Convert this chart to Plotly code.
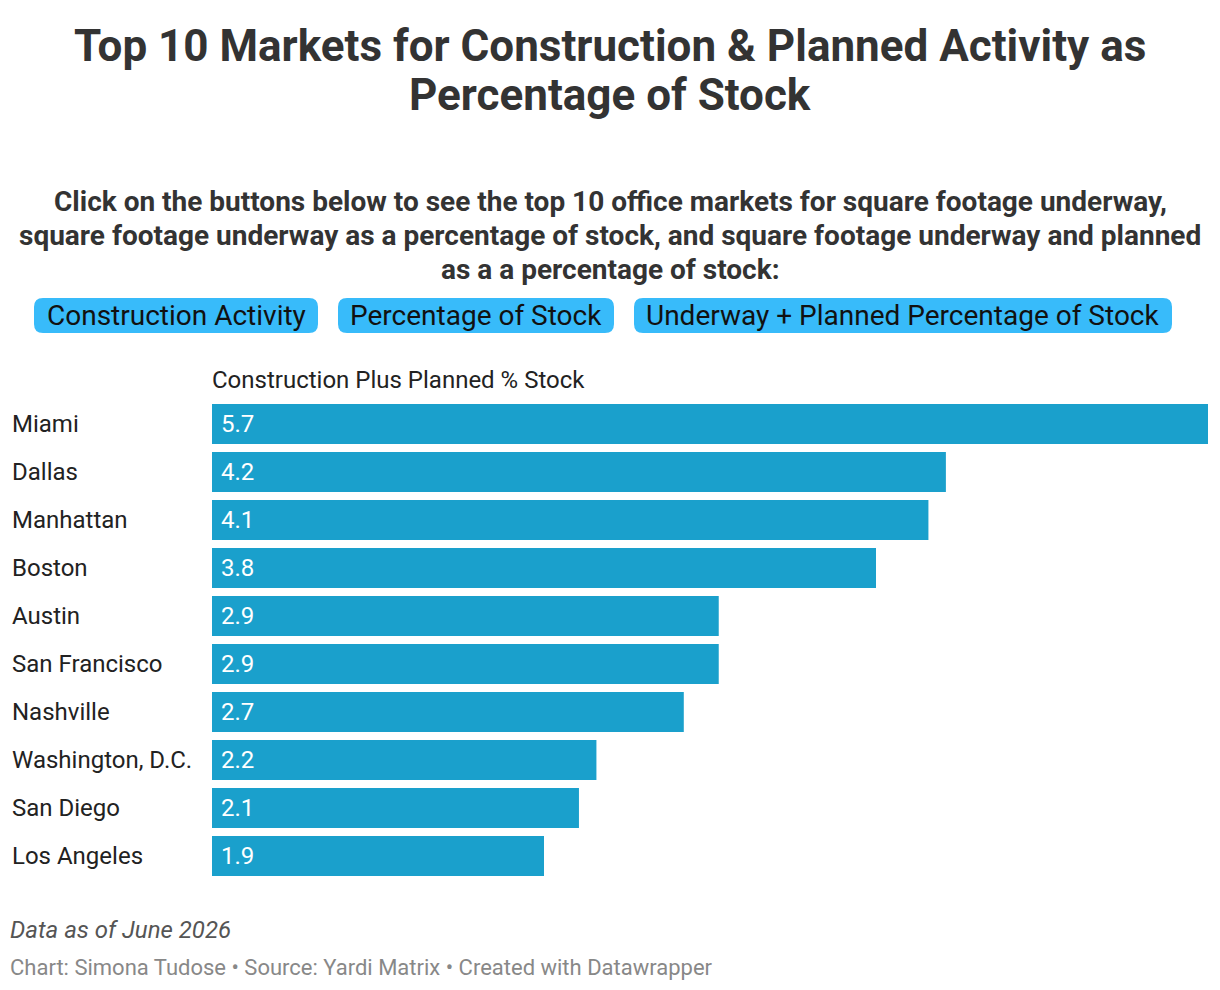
import plotly.graph_objects as go

markets = ["Miami", "Dallas", "Manhattan", "Boston", "Austin", "San Francisco",
           "Nashville", "Washington, D.C.", "San Diego", "Los Angeles"]
pct_stock = [5.7, 4.2, 4.1, 3.8, 2.9, 2.9, 2.7, 2.2, 2.1, 1.9]
buttons = ["Construction Activity", "Percentage of Stock", "Underway + Planned Percentage of Stock"]

# page has an 8px body margin, so the figure is drawn 8px in from the window corner
OFF = 8
W, H = 1220 - OFF, 990 - OFF
L, R, T, B = 212 - OFF, 12, 400 - OFF, 110
pw, ph = W - L - R, H - T - B

# window pixel -> paper coords
def px(x):
  return (x - OFF - L) / pw

def py(y):
  return (H - B - (y - OFF)) / ph

bar_color = "#1aa0cc"
font = "Roboto"

fig = go.Figure()
fig.add_trace(go.Bar(
  x=pct_stock, y=markets, orientation="h",
  marker=dict(color=bar_color, line=dict(width=0)),
  hoverinfo="x+y", showlegend=False,
))

ann = []
# city labels, left aligned
for m in markets:
  ann.append(dict(x=px(10), xref="paper", y=m, yref="y", text=m, showarrow=False,
                  xanchor="left", yanchor="middle", font=dict(size=24, color="#222", family=font)))
# value labels inside bars
for m, v in zip(markets, pct_stock):
  ann.append(dict(x=0, xref="x", y=m, yref="y", text=str(v), showarrow=False, xshift=7,
                  xanchor="left", yanchor="middle", font=dict(size=24, color="white", family=font)))

title_lines = ["Top 10 Markets for Construction & Planned Activity as", "Percentage of Stock"]
for i, t in enumerate(title_lines):
  ann.append(dict(x=px(610), xref="paper", y=py(46 + 49 * i), yref="paper", text="<b>%s</b>" % t,
                  showarrow=False, xanchor="center", yanchor="middle",
                  font=dict(size=44, color="#333", family=font)))

sub_lines = ["Click on the buttons below to see the top 10 office markets for square footage underway,",
             "square footage underway as a percentage of stock, and square footage underway and planned",
             "as a a percentage of stock:"]
for i, t in enumerate(sub_lines):
  ann.append(dict(x=px(610), xref="paper", y=py(201 + 34 * i), yref="paper", text="<b>%s</b>" % t,
                  showarrow=False, xanchor="center", yanchor="middle",
                  font=dict(size=28, color="#333", family=font)))

# buttons
btn_x = [(34, 318), (338, 614), (634, 1172)]
shapes = []
r = 9
y0, y1 = 298, 333
for (x0, x1), b in zip(btn_x, buttons):
  # rounded rectangle in pixel space converted to paper
  path = ("M {a},{t} L {b},{t} Q {x1},{t} {x1},{tr} L {x1},{br} Q {x1},{bt} {b},{bt} "
          "L {a},{bt} Q {x0},{bt} {x0},{br} L {x0},{tr} Q {x0},{t} {a},{t} Z").format(
    a=px(x0 + r), b=px(x1 - r), x0=px(x0), x1=px(x1),
    t=py(y0), tr=py(y0 + r), br=py(y1 - r), bt=py(y1))
  shapes.append(dict(type="path", path=path, xref="paper", yref="paper",
                     fillcolor="#38bbfa", line=dict(width=0), layer="above"))
  ann.append(dict(x=px((x0 + x1) / 2), xref="paper", y=py((y0 + y1) / 2), yref="paper", text=b,
                  showarrow=False, xanchor="center", yanchor="middle",
                  font=dict(size=28, color="#111", family=font)))

ann.append(dict(x=px(210), xref="paper", y=py(380), yref="paper", text="Construction Plus Planned % Stock",
                showarrow=False, xanchor="left", yanchor="middle",
                font=dict(size=24, color="#222", family=font)))

ann.append(dict(x=px(8), xref="paper", y=py(930), yref="paper", text="<i>Data as of June 2026</i>",
                showarrow=False, xanchor="left", yanchor="middle",
                font=dict(size=24, color="#555", family=font)))
ann.append(dict(x=px(8), xref="paper", y=py(967), yref="paper",
                text="Chart: Simona Tudose • Source: Yardi Matrix • Created with Datawrapper",
                showarrow=False, xanchor="left", yanchor="middle",
                font=dict(size=22, color="#888", family=font)))

fig.update_layout(
  width=W, height=H,
  margin=dict(l=L, r=R, t=T, b=B, pad=0),
  paper_bgcolor="white", plot_bgcolor="white",
  bargap=8 / 48,
  xaxis=dict(range=[0, 5.7], visible=False, fixedrange=True),
  yaxis=dict(autorange="reversed", showticklabels=False, showgrid=False, zeroline=False,
             showline=False, ticks="", fixedrange=True),
  annotations=ann, shapes=shapes,
  font=dict(family=font),
)

fig.write_html("out.html")
